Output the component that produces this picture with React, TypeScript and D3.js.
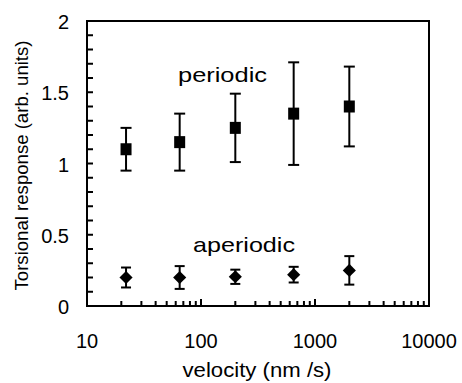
import React from "react";
import * as d3 from "d3";

const velocities = [22, 65, 200, 650, 2000];
const periodicMean = [1.1, 1.15, 1.25, 1.35, 1.4];
const periodicErr = [0.15, 0.2, 0.24, 0.36, 0.28];
const aperiodicMean = [0.2, 0.2, 0.205, 0.22, 0.25];
const aperiodicErr = [0.07, 0.08, 0.05, 0.055, 0.1];
const xTickValues = [10, 100, 1000, 10000];
const yTickValues = [0, 0.5, 1, 1.5, 2];
const xTitle = "velocity (nm /s)";
const yTitle = "Torsional response (arb. units)";
const seriesLabels = ["periodic", "aperiodic"];

const W = 462;
const H = 383;
const L = 87, R = 429, T = 21, B = 306;
const FONT = "'Liberation Sans', Arial, Helvetica, sans-serif";

export default function App() {
  const x = d3.scaleLog().domain([10, 10000]).range([L, R]);
  const y = d3.scaleLinear().domain([0, 2]).range([B, T]);

  const yMinor = d3.range(1, 20).map((i) => i / 10);
  const xMinor: { v: number; major: boolean }[] = [];
  [10, 100, 1000].forEach((dec) => {
    for (let m = 2; m <= 9; m++) xMinor.push({ v: dec * m, major: false });
  });
  [100, 1000].forEach((v) => xMinor.push({ v, major: true }));

  const periodic = velocities.map((v, i) => ({ v, m: periodicMean[i], e: periodicErr[i] }));
  const aperiodic = velocities.map((v, i) => ({ v, m: aperiodicMean[i], e: aperiodicErr[i] }));

  const errorBar = (d: { v: number; m: number; e: number }, key: string, cap: number) => {
    const cx = x(d.v);
    return (
      <g key={key} stroke="#000" strokeWidth={2}>
        <line x1={cx} x2={cx} y1={y(d.m + d.e)} y2={y(d.m - d.e)} />
        <line x1={cx - cap / 2} x2={cx + cap / 2} y1={y(d.m + d.e)} y2={y(d.m + d.e)} />
        <line x1={cx - cap / 2} x2={cx + cap / 2} y1={y(d.m - d.e)} y2={y(d.m - d.e)} />
      </g>
    );
  };

  const diamond = d3.symbol().type(d3.symbolDiamond2 || d3.symbolDiamond).size(110)();

  return (
    <svg width={W} height={H} style={{ position: "absolute", left: 0, top: 0, background: "#fff" }} fontFamily={FONT}>
      <rect x={0} y={0} width={W} height={H} fill="#fff" />
      {/* y minor ticks */}
      {yMinor.map((v) => (
        <line key={"yt" + v} x1={L} x2={L + 6} y1={y(v)} y2={y(v)} stroke="#000" strokeWidth={2} />
      ))}
      {/* x ticks */}
      {xMinor.map((t, i) => (
        <line key={"xt" + i} x1={x(t.v)} x2={x(t.v)} y1={B} y2={B - (t.major ? 7 : 5)} stroke="#000" strokeWidth={2} />
      ))}
      <rect x={L} y={T} width={R - L} height={B - T} fill="none" stroke="#000" strokeWidth={2} />

      {/* tick labels */}
      {yTickValues.map((v) => (
        <text key={"yl" + v} x={69} y={y(v) + 1} textAnchor="end" dominantBaseline="central" fontSize={20} fill="#000">
          {String(v)}
        </text>
      ))}
      {xTickValues.map((v) => (
        <text key={"xl" + v} x={x(v)} y={348} textAnchor="middle" fontSize={20} fill="#000">
          {String(v)}
        </text>
      ))}

      {/* axis titles */}
      <text x={257} y={377} textAnchor="middle" fontSize={20} textLength={149} lengthAdjust="spacingAndGlyphs" fill="#000">
        {xTitle}
      </text>
      <text transform="translate(28,165.5) rotate(-90)" textAnchor="middle" fontSize={18} textLength={250} lengthAdjust="spacingAndGlyphs" fill="#000">
        {yTitle}
      </text>

      {/* series labels */}
      <text x={222.5} y={82} textAnchor="middle" fontSize={21} textLength={89} lengthAdjust="spacingAndGlyphs" fill="#000">
        {seriesLabels[0]}
      </text>
      <text x={244} y={252} textAnchor="middle" fontSize={21} textLength={102} lengthAdjust="spacingAndGlyphs" fill="#000">
        {seriesLabels[1]}
      </text>

      {/* periodic */}
      {periodic.map((d, i) => errorBar(d, "pe" + i, 11))}
      {periodic.map((d, i) => (
        <rect key={"ps" + i} x={x(d.v) - 5.5} y={y(d.m) - 6} width={11} height={12} fill="#000" />
      ))}

      {/* aperiodic */}
      {aperiodic.map((d, i) => errorBar(d, "ae" + i, 10))}
      {aperiodic.map((d, i) => (
        <path key={"ad" + i} d={diamond || ""} transform={`translate(${x(d.v)},${y(d.m)})`} fill="#000" />
      ))}
    </svg>
  );
}
